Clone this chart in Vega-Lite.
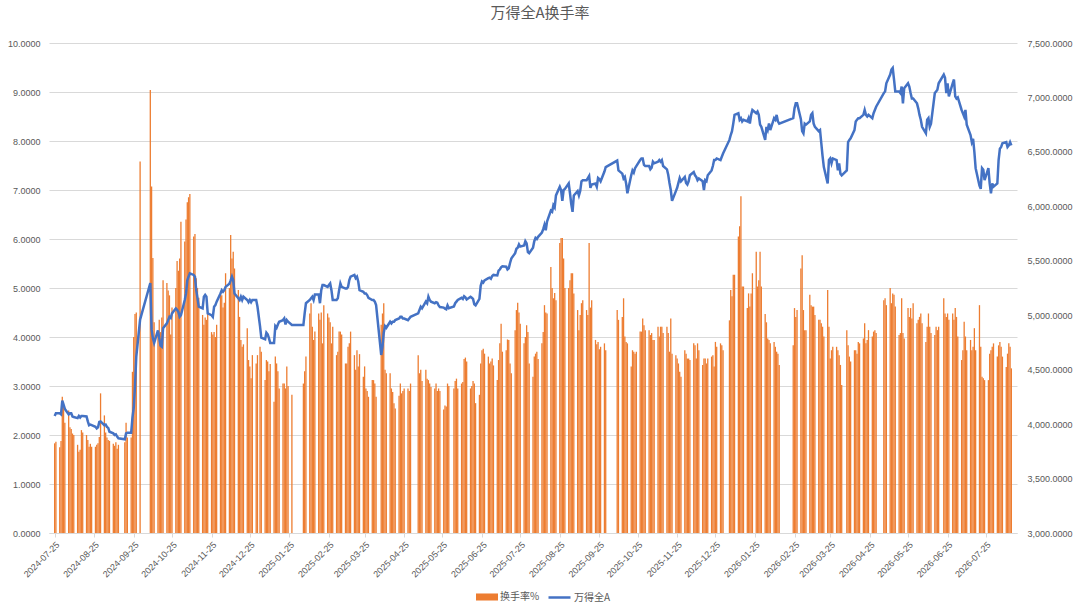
{
  "$schema": "https://vega.github.io/schema/vega-lite/v6.json",
  "width": 968,
  "height": 490,
  "autosize": {"type": "none"},
  "padding": {"left": 49, "top": 43, "right": 63, "bottom": 81},
  "background": "white",
  "title": {
    "text": "万得全A换手率",
    "font": "Noto Sans CJK SC",
    "fontSize": 15,
    "fontWeight": "normal",
    "color": "#595959",
    "anchor": "middle",
    "offset": 18,
    "dx": 7
  },
  "config": {"view": {"stroke": null}, "font": "Liberation Sans"},
  "data": {
    "values": [
      {"date":"2024-07-25","turnover":1.83,"index":4075},
      {"date":"2024-07-26","turnover":1.86,"index":4100},
      {"date":"2024-07-29","turnover":1.75,"index":4100},
      {"date":"2024-07-30","turnover":1.88,"index":4090},
      {"date":"2024-07-31","turnover":2.78,"index":4215},
      {"date":"2024-08-01","turnover":2.60,"index":4180},
      {"date":"2024-08-02","turnover":2.25,"index":4140},
      {"date":"2024-08-05","turnover":2.50,"index":4090},
      {"date":"2024-08-06","turnover":2.16,"index":4100},
      {"date":"2024-08-07","turnover":2.12,"index":4100},
      {"date":"2024-08-08","turnover":2.03,"index":4070},
      {"date":"2024-08-09","turnover":2.00,"index":4065},
      {"date":"2024-08-12","turnover":1.80,"index":4055},
      {"date":"2024-08-13","turnover":1.66,"index":4075},
      {"date":"2024-08-14","turnover":1.70,"index":4060},
      {"date":"2024-08-15","turnover":2.10,"index":4075},
      {"date":"2024-08-16","turnover":2.05,"index":4075},
      {"date":"2024-08-19","turnover":2.00,"index":4070},
      {"date":"2024-08-20","turnover":1.90,"index":4025},
      {"date":"2024-08-21","turnover":1.76,"index":3990},
      {"date":"2024-08-22","turnover":1.82,"index":3995},
      {"date":"2024-08-23","turnover":1.76,"index":3990},
      {"date":"2024-08-26","turnover":1.76,"index":3975},
      {"date":"2024-08-27","turnover":1.80,"index":3960},
      {"date":"2024-08-28","turnover":1.83,"index":3970},
      {"date":"2024-08-29","turnover":1.96,"index":4020},
      {"date":"2024-08-30","turnover":2.85,"index":4025},
      {"date":"2024-09-02","turnover":2.40,"index":3990},
      {"date":"2024-09-03","turnover":2.05,"index":3995},
      {"date":"2024-09-04","turnover":1.95,"index":3975},
      {"date":"2024-09-05","turnover":1.90,"index":3965},
      {"date":"2024-09-06","turnover":1.88,"index":3930},
      {"date":"2024-09-09","turnover":1.82,"index":3915},
      {"date":"2024-09-10","turnover":1.78,"index":3900},
      {"date":"2024-09-11","turnover":1.85,"index":3905},
      {"date":"2024-09-12","turnover":1.72,"index":3885},
      {"date":"2024-09-13","turnover":1.80,"index":3870},
      {"date":"2024-09-18","turnover":1.85,"index":3860},
      {"date":"2024-09-19","turnover":2.25,"index":3915},
      {"date":"2024-09-20","turnover":1.95,"index":3920},
      {"date":"2024-09-23","turnover":1.95,"index":3920},
      {"date":"2024-09-24","turnover":3.29,"index":4060},
      {"date":"2024-09-25","turnover":4.00,"index":4150},
      {"date":"2024-09-26","turnover":4.47,"index":4350},
      {"date":"2024-09-27","turnover":4.50,"index":4620},
      {"date":"2024-09-30","turnover":7.58,"index":4960},
      {"date":"2024-10-08","turnover":9.04,"index":5296},
      {"date":"2024-10-09","turnover":7.07,"index":4870},
      {"date":"2024-10-10","turnover":5.61,"index":4790},
      {"date":"2024-10-11","turnover":4.30,"index":4745},
      {"date":"2024-10-14","turnover":4.05,"index":4860},
      {"date":"2024-10-15","turnover":4.35,"index":4790},
      {"date":"2024-10-16","turnover":4.10,"index":4720},
      {"date":"2024-10-17","turnover":4.40,"index":4710},
      {"date":"2024-10-18","turnover":5.16,"index":4880},
      {"date":"2024-10-21","turnover":5.10,"index":4925},
      {"date":"2024-10-22","turnover":4.95,"index":4955},
      {"date":"2024-10-23","turnover":4.85,"index":4985},
      {"date":"2024-10-24","turnover":4.05,"index":4975},
      {"date":"2024-10-25","turnover":4.60,"index":5017},
      {"date":"2024-10-28","turnover":5.00,"index":5063},
      {"date":"2024-10-29","turnover":5.55,"index":5050},
      {"date":"2024-10-30","turnover":5.35,"index":5030},
      {"date":"2024-10-31","turnover":5.60,"index":4985},
      {"date":"2024-11-01","turnover":6.35,"index":5000},
      {"date":"2024-11-04","turnover":5.95,"index":5140},
      {"date":"2024-11-05","turnover":6.40,"index":5200},
      {"date":"2024-11-06","turnover":6.75,"index":5320},
      {"date":"2024-11-07","turnover":6.85,"index":5354},
      {"date":"2024-11-08","turnover":6.92,"index":5385},
      {"date":"2024-11-11","turnover":6.05,"index":5370},
      {"date":"2024-11-12","turnover":6.10,"index":5354},
      {"date":"2024-11-13","turnover":5.20,"index":5230},
      {"date":"2024-11-14","turnover":5.00,"index":5155},
      {"date":"2024-11-15","turnover":4.80,"index":5078},
      {"date":"2024-11-18","turnover":4.45,"index":5063},
      {"date":"2024-11-19","turnover":4.25,"index":5170},
      {"date":"2024-11-20","turnover":4.40,"index":5186},
      {"date":"2024-11-21","turnover":4.35,"index":5170},
      {"date":"2024-11-22","turnover":4.50,"index":5017},
      {"date":"2024-11-25","turnover":4.10,"index":5000},
      {"date":"2024-11-26","turnover":4.05,"index":4985},
      {"date":"2024-11-27","turnover":4.10,"index":5078},
      {"date":"2024-11-28","turnover":4.00,"index":5093},
      {"date":"2024-11-29","turnover":4.25,"index":5125},
      {"date":"2024-12-02","turnover":4.90,"index":5200},
      {"date":"2024-12-03","turnover":4.85,"index":5230},
      {"date":"2024-12-04","turnover":4.60,"index":5215},
      {"date":"2024-12-05","turnover":4.70,"index":5230},
      {"date":"2024-12-06","turnover":5.30,"index":5260},
      {"date":"2024-12-09","turnover":5.00,"index":5290},
      {"date":"2024-12-10","turnover":6.08,"index":5320},
      {"date":"2024-12-11","turnover":5.60,"index":5354},
      {"date":"2024-12-12","turnover":5.74,"index":5320},
      {"date":"2024-12-13","turnover":5.40,"index":5200},
      {"date":"2024-12-16","turnover":4.96,"index":5155},
      {"date":"2024-12-17","turnover":4.41,"index":5140},
      {"date":"2024-12-18","turnover":3.94,"index":5170},
      {"date":"2024-12-19","turnover":3.80,"index":5140},
      {"date":"2024-12-20","turnover":3.85,"index":5170},
      {"date":"2024-12-23","turnover":4.18,"index":5140},
      {"date":"2024-12-24","turnover":3.53,"index":5120},
      {"date":"2024-12-25","turnover":3.40,"index":5140},
      {"date":"2024-12-26","turnover":3.16,"index":5120},
      {"date":"2024-12-27","turnover":3.63,"index":5140},
      {"date":"2024-12-30","turnover":3.46,"index":5140},
      {"date":"2024-12-31","turnover":3.63,"index":5080},
      {"date":"2025-01-02","turnover":3.80,"index":4900},
      {"date":"2025-01-03","turnover":3.70,"index":4795},
      {"date":"2025-01-06","turnover":3.12,"index":4780},
      {"date":"2025-01-07","turnover":3.53,"index":4840},
      {"date":"2025-01-08","turnover":3.50,"index":4825},
      {"date":"2025-01-09","turnover":3.30,"index":4790},
      {"date":"2025-01-10","turnover":3.45,"index":4745},
      {"date":"2025-01-13","turnover":2.68,"index":4745},
      {"date":"2025-01-14","turnover":3.60,"index":4900},
      {"date":"2025-01-15","turnover":3.46,"index":4885},
      {"date":"2025-01-16","turnover":3.30,"index":4915},
      {"date":"2025-01-17","turnover":2.95,"index":4940},
      {"date":"2025-01-20","turnover":3.05,"index":4955},
      {"date":"2025-01-21","turnover":3.05,"index":4970},
      {"date":"2025-01-22","turnover":2.95,"index":4915},
      {"date":"2025-01-23","turnover":3.40,"index":4955},
      {"date":"2025-01-24","turnover":3.00,"index":4940},
      {"date":"2025-01-27","turnover":2.82,"index":4910},
      {"date":"2025-02-05","turnover":3.05,"index":4910},
      {"date":"2025-02-06","turnover":3.30,"index":5017},
      {"date":"2025-02-07","turnover":3.60,"index":5110},
      {"date":"2025-02-10","turnover":4.48,"index":5140},
      {"date":"2025-02-11","turnover":4.69,"index":5155},
      {"date":"2025-02-12","turnover":4.21,"index":5170},
      {"date":"2025-02-13","turnover":3.94,"index":5140},
      {"date":"2025-02-14","turnover":4.11,"index":5190},
      {"date":"2025-02-17","turnover":4.48,"index":5190},
      {"date":"2025-02-18","turnover":4.35,"index":5110},
      {"date":"2025-02-19","turnover":4.50,"index":5230},
      {"date":"2025-02-20","turnover":3.87,"index":5277},
      {"date":"2025-02-21","turnover":4.65,"index":5277},
      {"date":"2025-02-24","turnover":4.48,"index":5260},
      {"date":"2025-02-25","turnover":4.40,"index":5277},
      {"date":"2025-02-26","turnover":4.30,"index":5292},
      {"date":"2025-02-27","turnover":3.87,"index":5230},
      {"date":"2025-02-28","turnover":4.21,"index":5140},
      {"date":"2025-03-03","turnover":3.63,"index":5140},
      {"date":"2025-03-04","turnover":3.70,"index":5155},
      {"date":"2025-03-05","turnover":4.11,"index":5230},
      {"date":"2025-03-06","turnover":4.11,"index":5292},
      {"date":"2025-03-07","turnover":4.05,"index":5260},
      {"date":"2025-03-10","turnover":3.46,"index":5245},
      {"date":"2025-03-11","turnover":3.46,"index":5245},
      {"date":"2025-03-12","turnover":3.80,"index":5260},
      {"date":"2025-03-13","turnover":3.87,"index":5323},
      {"date":"2025-03-14","turnover":4.11,"index":5354},
      {"date":"2025-03-17","turnover":3.63,"index":5370},
      {"date":"2025-03-18","turnover":3.33,"index":5340},
      {"date":"2025-03-19","turnover":3.73,"index":5354},
      {"date":"2025-03-20","turnover":3.40,"index":5310},
      {"date":"2025-03-21","turnover":3.65,"index":5230},
      {"date":"2025-03-24","turnover":3.19,"index":5215},
      {"date":"2025-03-25","turnover":3.40,"index":5200},
      {"date":"2025-03-26","turnover":2.95,"index":5200},
      {"date":"2025-03-27","turnover":2.90,"index":5185},
      {"date":"2025-03-28","turnover":2.78,"index":5160},
      {"date":"2025-03-31","turnover":3.12,"index":5140},
      {"date":"2025-04-01","turnover":3.12,"index":5140},
      {"date":"2025-04-02","turnover":3.05,"index":5125},
      {"date":"2025-04-03","turnover":2.78,"index":5093},
      {"date":"2025-04-07","turnover":4.25,"index":4635},
      {"date":"2025-04-08","turnover":4.48,"index":4710},
      {"date":"2025-04-09","turnover":4.69,"index":4840},
      {"date":"2025-04-10","turnover":3.33,"index":4900},
      {"date":"2025-04-11","turnover":3.26,"index":4885},
      {"date":"2025-04-14","turnover":3.26,"index":4940},
      {"date":"2025-04-15","turnover":2.95,"index":4925},
      {"date":"2025-04-16","turnover":2.88,"index":4940},
      {"date":"2025-04-17","turnover":2.65,"index":4940},
      {"date":"2025-04-18","turnover":2.54,"index":4955},
      {"date":"2025-04-21","turnover":2.80,"index":4970},
      {"date":"2025-04-22","turnover":3.05,"index":4985},
      {"date":"2025-04-23","turnover":2.85,"index":4985},
      {"date":"2025-04-24","turnover":2.90,"index":4970},
      {"date":"2025-04-25","turnover":2.95,"index":4970},
      {"date":"2025-04-28","turnover":2.95,"index":4955},
      {"date":"2025-04-29","turnover":2.90,"index":4970},
      {"date":"2025-04-30","turnover":3.05,"index":4985},
      {"date":"2025-05-06","turnover":3.63,"index":5017},
      {"date":"2025-05-07","turnover":3.26,"index":5048},
      {"date":"2025-05-08","turnover":3.33,"index":5078},
      {"date":"2025-05-09","turnover":3.10,"index":5063},
      {"date":"2025-05-12","turnover":3.33,"index":5125},
      {"date":"2025-05-13","turnover":3.15,"index":5110},
      {"date":"2025-05-14","turnover":3.12,"index":5170},
      {"date":"2025-05-15","turnover":3.05,"index":5140},
      {"date":"2025-05-16","turnover":2.98,"index":5125},
      {"date":"2025-05-19","turnover":2.95,"index":5110},
      {"date":"2025-05-20","turnover":3.05,"index":5120},
      {"date":"2025-05-21","turnover":2.90,"index":5115},
      {"date":"2025-05-22","turnover":2.95,"index":5090},
      {"date":"2025-05-23","turnover":2.90,"index":5075},
      {"date":"2025-05-26","turnover":2.52,"index":5070},
      {"date":"2025-05-27","turnover":2.60,"index":5060},
      {"date":"2025-05-28","turnover":2.58,"index":5055},
      {"date":"2025-05-29","turnover":3.05,"index":5090},
      {"date":"2025-05-30","turnover":3.00,"index":5065},
      {"date":"2025-06-03","turnover":2.95,"index":5080},
      {"date":"2025-06-04","turnover":3.10,"index":5110},
      {"date":"2025-06-05","turnover":3.15,"index":5125},
      {"date":"2025-06-06","turnover":2.95,"index":5140},
      {"date":"2025-06-09","turnover":3.05,"index":5160},
      {"date":"2025-06-10","turnover":3.08,"index":5150},
      {"date":"2025-06-11","turnover":3.55,"index":5175},
      {"date":"2025-06-12","turnover":3.58,"index":5165},
      {"date":"2025-06-13","turnover":3.50,"index":5145},
      {"date":"2025-06-16","turnover":2.95,"index":5170},
      {"date":"2025-06-17","turnover":3.00,"index":5160},
      {"date":"2025-06-18","turnover":3.10,"index":5150},
      {"date":"2025-06-19","turnover":3.05,"index":5100},
      {"date":"2025-06-20","turnover":2.65,"index":5090},
      {"date":"2025-06-23","turnover":2.82,"index":5150},
      {"date":"2025-06-24","turnover":3.46,"index":5270},
      {"date":"2025-06-25","turnover":3.73,"index":5310},
      {"date":"2025-06-26","turnover":3.76,"index":5300},
      {"date":"2025-06-27","turnover":3.66,"index":5320},
      {"date":"2025-06-30","turnover":3.60,"index":5340},
      {"date":"2025-07-01","turnover":3.46,"index":5345},
      {"date":"2025-07-02","turnover":3.50,"index":5335},
      {"date":"2025-07-03","turnover":3.56,"index":5360},
      {"date":"2025-07-04","turnover":3.42,"index":5370},
      {"date":"2025-07-07","turnover":3.12,"index":5365},
      {"date":"2025-07-08","turnover":3.53,"index":5410},
      {"date":"2025-07-09","turnover":3.87,"index":5420},
      {"date":"2025-07-10","turnover":4.27,"index":5440},
      {"date":"2025-07-11","turnover":3.70,"index":5450},
      {"date":"2025-07-14","turnover":3.73,"index":5445},
      {"date":"2025-07-15","turnover":3.95,"index":5420},
      {"date":"2025-07-16","turnover":3.94,"index":5430},
      {"date":"2025-07-17","turnover":3.46,"index":5480},
      {"date":"2025-07-18","turnover":3.26,"index":5520},
      {"date":"2025-07-21","turnover":4.14,"index":5570},
      {"date":"2025-07-22","turnover":4.55,"index":5610},
      {"date":"2025-07-23","turnover":4.70,"index":5620},
      {"date":"2025-07-24","turnover":4.50,"index":5650},
      {"date":"2025-07-25","turnover":4.27,"index":5630},
      {"date":"2025-07-28","turnover":3.87,"index":5640},
      {"date":"2025-07-29","turnover":4.00,"index":5680},
      {"date":"2025-07-30","turnover":4.24,"index":5660},
      {"date":"2025-07-31","turnover":4.10,"index":5580},
      {"date":"2025-08-01","turnover":3.46,"index":5570},
      {"date":"2025-08-04","turnover":3.19,"index":5620},
      {"date":"2025-08-05","turnover":3.60,"index":5680},
      {"date":"2025-08-06","turnover":3.66,"index":5710},
      {"date":"2025-08-07","turnover":3.70,"index":5700},
      {"date":"2025-08-08","turnover":3.55,"index":5720},
      {"date":"2025-08-11","turnover":3.87,"index":5760},
      {"date":"2025-08-12","turnover":4.10,"index":5790},
      {"date":"2025-08-13","turnover":4.65,"index":5830},
      {"date":"2025-08-14","turnover":4.50,"index":5780},
      {"date":"2025-08-15","turnover":4.48,"index":5860},
      {"date":"2025-08-18","turnover":5.43,"index":5960},
      {"date":"2025-08-19","turnover":5.00,"index":5950},
      {"date":"2025-08-20","turnover":4.79,"index":6010},
      {"date":"2025-08-21","turnover":4.90,"index":5990},
      {"date":"2025-08-22","turnover":4.75,"index":6100},
      {"date":"2025-08-25","turnover":5.92,"index":6180},
      {"date":"2025-08-26","turnover":6.02,"index":6150},
      {"date":"2025-08-27","turnover":6.02,"index":6050},
      {"date":"2025-08-28","turnover":5.60,"index":6150},
      {"date":"2025-08-29","turnover":5.00,"index":6160},
      {"date":"2025-09-01","turnover":5.00,"index":6210},
      {"date":"2025-09-02","turnover":5.16,"index":6120},
      {"date":"2025-09-03","turnover":5.30,"index":6020},
      {"date":"2025-09-04","turnover":5.30,"index":5950},
      {"date":"2025-09-05","turnover":4.89,"index":6100},
      {"date":"2025-09-08","turnover":4.55,"index":6140},
      {"date":"2025-09-09","turnover":4.14,"index":6100},
      {"date":"2025-09-10","turnover":4.45,"index":6140},
      {"date":"2025-09-11","turnover":4.69,"index":6230},
      {"date":"2025-09-12","turnover":4.75,"index":6240},
      {"date":"2025-09-15","turnover":4.55,"index":6240},
      {"date":"2025-09-16","turnover":4.45,"index":6260},
      {"date":"2025-09-17","turnover":5.92,"index":6280},
      {"date":"2025-09-18","turnover":4.60,"index":6170},
      {"date":"2025-09-19","turnover":4.75,"index":6200},
      {"date":"2025-09-22","turnover":3.94,"index":6210},
      {"date":"2025-09-23","turnover":3.85,"index":6180},
      {"date":"2025-09-24","turnover":3.90,"index":6260},
      {"date":"2025-09-25","turnover":3.75,"index":6250},
      {"date":"2025-09-26","turnover":3.80,"index":6230},
      {"date":"2025-09-29","turnover":3.87,"index":6320},
      {"date":"2025-09-30","turnover":3.73,"index":6360},
      {"date":"2025-10-09","turnover":4.55,"index":6420},
      {"date":"2025-10-10","turnover":4.35,"index":6330},
      {"date":"2025-10-13","turnover":4.41,"index":6300},
      {"date":"2025-10-14","turnover":4.79,"index":6255},
      {"date":"2025-10-15","turnover":4.01,"index":6270},
      {"date":"2025-10-16","turnover":3.90,"index":6210},
      {"date":"2025-10-17","turnover":3.87,"index":6120},
      {"date":"2025-10-20","turnover":3.40,"index":6285},
      {"date":"2025-10-21","turnover":3.73,"index":6330},
      {"date":"2025-10-22","turnover":3.70,"index":6310},
      {"date":"2025-10-23","turnover":3.66,"index":6350},
      {"date":"2025-10-24","turnover":3.70,"index":6370},
      {"date":"2025-10-27","turnover":4.11,"index":6425},
      {"date":"2025-10-28","turnover":4.11,"index":6440},
      {"date":"2025-10-29","turnover":4.38,"index":6440},
      {"date":"2025-10-30","turnover":4.24,"index":6380},
      {"date":"2025-10-31","turnover":4.14,"index":6370},
      {"date":"2025-11-03","turnover":4.14,"index":6370},
      {"date":"2025-11-04","turnover":4.04,"index":6340},
      {"date":"2025-11-05","turnover":4.08,"index":6355},
      {"date":"2025-11-06","turnover":3.94,"index":6410},
      {"date":"2025-11-07","turnover":3.94,"index":6395},
      {"date":"2025-11-10","turnover":4.21,"index":6410},
      {"date":"2025-11-11","turnover":4.01,"index":6425},
      {"date":"2025-11-12","turnover":4.21,"index":6410},
      {"date":"2025-11-13","turnover":4.21,"index":6425},
      {"date":"2025-11-14","turnover":4.08,"index":6370},
      {"date":"2025-11-17","turnover":4.21,"index":6340},
      {"date":"2025-11-18","turnover":4.08,"index":6290},
      {"date":"2025-11-19","turnover":3.70,"index":6215},
      {"date":"2025-11-20","turnover":4.38,"index":6150},
      {"date":"2025-11-21","turnover":3.66,"index":6050},
      {"date":"2025-11-24","turnover":3.63,"index":6140},
      {"date":"2025-11-25","turnover":3.56,"index":6170},
      {"date":"2025-11-26","turnover":3.46,"index":6215},
      {"date":"2025-11-27","turnover":3.29,"index":6260},
      {"date":"2025-11-28","turnover":3.19,"index":6230},
      {"date":"2025-12-01","turnover":3.73,"index":6270},
      {"date":"2025-12-02","turnover":3.66,"index":6215},
      {"date":"2025-12-03","turnover":3.56,"index":6200},
      {"date":"2025-12-04","turnover":3.56,"index":6230},
      {"date":"2025-12-05","turnover":3.53,"index":6285},
      {"date":"2025-12-08","turnover":3.87,"index":6315},
      {"date":"2025-12-09","turnover":3.83,"index":6285},
      {"date":"2025-12-10","turnover":3.56,"index":6270},
      {"date":"2025-12-11","turnover":3.87,"index":6240},
      {"date":"2025-12-12","turnover":3.73,"index":6255},
      {"date":"2025-12-15","turnover":3.43,"index":6230},
      {"date":"2025-12-16","turnover":3.56,"index":6150},
      {"date":"2025-12-17","turnover":3.56,"index":6240},
      {"date":"2025-12-18","turnover":3.46,"index":6230},
      {"date":"2025-12-19","turnover":3.56,"index":6285},
      {"date":"2025-12-22","turnover":3.60,"index":6330},
      {"date":"2025-12-23","turnover":3.63,"index":6370},
      {"date":"2025-12-24","turnover":3.40,"index":6425},
      {"date":"2025-12-25","turnover":3.90,"index":6425},
      {"date":"2025-12-26","turnover":3.80,"index":6440},
      {"date":"2025-12-29","turnover":3.87,"index":6425},
      {"date":"2025-12-30","turnover":3.83,"index":6455},
      {"date":"2025-12-31","turnover":3.73,"index":6485},
      {"date":"2026-01-05","turnover":4.34,"index":6610},
      {"date":"2026-01-06","turnover":4.96,"index":6655},
      {"date":"2026-01-07","turnover":4.83,"index":6690},
      {"date":"2026-01-08","turnover":5.27,"index":6760},
      {"date":"2026-01-09","turnover":5.27,"index":6840},
      {"date":"2026-01-12","turnover":6.05,"index":6855},
      {"date":"2026-01-13","turnover":6.26,"index":6795},
      {"date":"2026-01-14","turnover":6.87,"index":6810},
      {"date":"2026-01-15","turnover":5.03,"index":6780},
      {"date":"2026-01-16","turnover":5.03,"index":6795},
      {"date":"2026-01-19","turnover":4.59,"index":6780},
      {"date":"2026-01-20","turnover":4.89,"index":6810},
      {"date":"2026-01-21","turnover":4.62,"index":6760},
      {"date":"2026-01-22","turnover":4.89,"index":6840},
      {"date":"2026-01-23","turnover":5.30,"index":6885},
      {"date":"2026-01-26","turnover":5.74,"index":6855},
      {"date":"2026-01-27","turnover":5.03,"index":6870},
      {"date":"2026-01-28","turnover":5.16,"index":6840},
      {"date":"2026-01-29","turnover":5.74,"index":6750},
      {"date":"2026-01-30","turnover":5.03,"index":6730},
      {"date":"2026-02-02","turnover":4.47,"index":6610},
      {"date":"2026-02-03","turnover":4.30,"index":6730},
      {"date":"2026-02-04","turnover":3.97,"index":6700},
      {"date":"2026-02-05","turnover":3.94,"index":6760},
      {"date":"2026-02-06","turnover":3.87,"index":6700},
      {"date":"2026-02-09","turnover":3.90,"index":6810},
      {"date":"2026-02-10","turnover":3.80,"index":6795},
      {"date":"2026-02-11","turnover":3.70,"index":6840},
      {"date":"2026-02-12","turnover":3.66,"index":6780},
      {"date":"2026-02-13","turnover":3.43,"index":6760},
      {"date":"2026-02-24","turnover":3.83,"index":6810},
      {"date":"2026-02-25","turnover":4.59,"index":6900},
      {"date":"2026-02-26","turnover":4.41,"index":6946},
      {"date":"2026-02-27","turnover":4.55,"index":6946},
      {"date":"2026-03-02","turnover":5.40,"index":6800},
      {"date":"2026-03-03","turnover":5.67,"index":6690},
      {"date":"2026-03-04","turnover":4.55,"index":6670},
      {"date":"2026-03-05","turnover":4.14,"index":6760},
      {"date":"2026-03-06","turnover":4.14,"index":6750},
      {"date":"2026-03-09","turnover":4.86,"index":6780},
      {"date":"2026-03-10","turnover":4.65,"index":6840},
      {"date":"2026-03-11","turnover":4.62,"index":6855},
      {"date":"2026-03-12","turnover":4.62,"index":6760},
      {"date":"2026-03-13","turnover":4.45,"index":6730},
      {"date":"2026-03-16","turnover":4.35,"index":6690},
      {"date":"2026-03-17","turnover":4.35,"index":6700},
      {"date":"2026-03-18","turnover":4.28,"index":6580},
      {"date":"2026-03-19","turnover":4.21,"index":6460},
      {"date":"2026-03-20","turnover":4.01,"index":6360},
      {"date":"2026-03-23","turnover":4.96,"index":6210},
      {"date":"2026-03-24","turnover":4.21,"index":6425},
      {"date":"2026-03-25","turnover":3.56,"index":6440},
      {"date":"2026-03-26","turnover":3.73,"index":6395},
      {"date":"2026-03-27","turnover":3.80,"index":6440},
      {"date":"2026-03-30","turnover":3.80,"index":6425},
      {"date":"2026-03-31","turnover":3.73,"index":6330},
      {"date":"2026-04-01","turnover":3.63,"index":6395},
      {"date":"2026-04-02","turnover":3.43,"index":6300},
      {"date":"2026-04-03","turnover":3.02,"index":6285},
      {"date":"2026-04-07","turnover":4.14,"index":6330},
      {"date":"2026-04-08","turnover":3.83,"index":6590},
      {"date":"2026-04-09","turnover":3.60,"index":6610},
      {"date":"2026-04-10","turnover":3.50,"index":6625},
      {"date":"2026-04-13","turnover":3.73,"index":6700},
      {"date":"2026-04-14","turnover":3.73,"index":6780},
      {"date":"2026-04-15","turnover":3.66,"index":6795},
      {"date":"2026-04-16","turnover":3.90,"index":6810},
      {"date":"2026-04-17","turnover":3.87,"index":6810},
      {"date":"2026-04-20","turnover":3.97,"index":6840},
      {"date":"2026-04-21","turnover":4.28,"index":6885},
      {"date":"2026-04-22","turnover":3.87,"index":6840},
      {"date":"2026-04-23","turnover":3.94,"index":6825},
      {"date":"2026-04-24","turnover":4.14,"index":6840},
      {"date":"2026-04-27","turnover":4.01,"index":6810},
      {"date":"2026-04-28","turnover":4.11,"index":6855},
      {"date":"2026-04-29","turnover":4.14,"index":6885},
      {"date":"2026-04-30","turnover":4.08,"index":6915},
      {"date":"2026-05-06","turnover":4.75,"index":7040},
      {"date":"2026-05-07","turnover":4.79,"index":7055},
      {"date":"2026-05-08","turnover":4.65,"index":7130},
      {"date":"2026-05-11","turnover":5.00,"index":7210},
      {"date":"2026-05-12","turnover":4.69,"index":7255},
      {"date":"2026-05-13","turnover":4.89,"index":7270},
      {"date":"2026-05-14","turnover":4.86,"index":7165},
      {"date":"2026-05-15","turnover":4.62,"index":7055},
      {"date":"2026-05-18","turnover":4.04,"index":7055},
      {"date":"2026-05-19","turnover":4.08,"index":7040},
      {"date":"2026-05-20","turnover":4.79,"index":7100},
      {"date":"2026-05-21","turnover":4.08,"index":6946},
      {"date":"2026-05-22","turnover":3.97,"index":7085},
      {"date":"2026-05-25","turnover":4.59,"index":7130},
      {"date":"2026-05-26","turnover":4.41,"index":7100},
      {"date":"2026-05-27","turnover":4.59,"index":7040},
      {"date":"2026-05-28","turnover":4.38,"index":6990},
      {"date":"2026-05-29","turnover":4.69,"index":6990},
      {"date":"2026-06-01","turnover":4.28,"index":6946},
      {"date":"2026-06-02","turnover":4.35,"index":6900},
      {"date":"2026-06-03","turnover":4.41,"index":6840},
      {"date":"2026-06-04","turnover":4.48,"index":6795},
      {"date":"2026-06-05","turnover":4.28,"index":6730},
      {"date":"2026-06-08","turnover":3.90,"index":6670},
      {"date":"2026-06-09","turnover":4.21,"index":6795},
      {"date":"2026-06-10","turnover":4.48,"index":6810},
      {"date":"2026-06-11","turnover":4.21,"index":6730},
      {"date":"2026-06-12","turnover":4.08,"index":6760},
      {"date":"2026-06-15","turnover":4.04,"index":7040},
      {"date":"2026-06-16","turnover":4.21,"index":7055},
      {"date":"2026-06-17","turnover":4.14,"index":7070},
      {"date":"2026-06-18","turnover":4.21,"index":7130},
      {"date":"2026-06-22","turnover":4.79,"index":7210},
      {"date":"2026-06-23","turnover":4.48,"index":7180},
      {"date":"2026-06-24","turnover":4.41,"index":7040},
      {"date":"2026-06-25","turnover":4.48,"index":7130},
      {"date":"2026-06-26","turnover":4.35,"index":7010},
      {"date":"2026-06-29","turnover":4.48,"index":7130},
      {"date":"2026-06-30","turnover":4.35,"index":7165},
      {"date":"2026-07-01","turnover":4.59,"index":7010},
      {"date":"2026-07-02","turnover":4.41,"index":6990},
      {"date":"2026-07-03","turnover":4.01,"index":7000},
      {"date":"2026-07-06","turnover":3.53,"index":6885},
      {"date":"2026-07-07","turnover":3.73,"index":6855},
      {"date":"2026-07-08","turnover":4.31,"index":6825},
      {"date":"2026-07-09","turnover":4.01,"index":6885},
      {"date":"2026-07-10","turnover":3.73,"index":6750},
      {"date":"2026-07-13","turnover":3.94,"index":6655},
      {"date":"2026-07-14","turnover":3.73,"index":6590},
      {"date":"2026-07-15","turnover":3.80,"index":6620},
      {"date":"2026-07-16","turnover":4.18,"index":6500},
      {"date":"2026-07-17","turnover":3.73,"index":6350},
      {"date":"2026-07-20","turnover":4.65,"index":6190},
      {"date":"2026-07-21","turnover":3.80,"index":6160},
      {"date":"2026-07-22","turnover":3.19,"index":6350},
      {"date":"2026-07-23","turnover":3.16,"index":6335},
      {"date":"2026-07-24","turnover":3.12,"index":6240},
      {"date":"2026-07-27","turnover":3.12,"index":6350},
      {"date":"2026-07-28","turnover":3.66,"index":6210},
      {"date":"2026-07-29","turnover":3.73,"index":6120},
      {"date":"2026-07-30","turnover":3.80,"index":6210},
      {"date":"2026-07-31","turnover":3.87,"index":6180},
      {"date":"2026-08-03","turnover":3.60,"index":6210},
      {"date":"2026-08-04","turnover":3.83,"index":6425},
      {"date":"2026-08-05","turnover":3.90,"index":6530},
      {"date":"2026-08-06","turnover":3.80,"index":6545},
      {"date":"2026-08-07","turnover":3.60,"index":6580},
      {"date":"2026-08-10","turnover":3.39,"index":6590},
      {"date":"2026-08-11","turnover":3.66,"index":6545},
      {"date":"2026-08-12","turnover":3.87,"index":6560},
      {"date":"2026-08-13","turnover":3.80,"index":6590},
      {"date":"2026-08-14","turnover":3.36,"index":6560}
    ]
  },
  "encoding": {
    "x": {
      "field": "date",
      "type": "temporal",
      "scale": {
        "type": "utc",
        "domain": [
          {"year": 2024, "month": 7, "date": 24, "hours": 12, "utc": true},
          {"year": 2026, "month": 8, "date": 14, "hours": 12, "utc": true}
        ]
      },
      "axis": {
        "title": null,
        "format": "%Y-%m-%d",
        "values": [
          {"year": 2024, "month": 7, "date": 25, "utc": true},
          {"year": 2024, "month": 8, "date": 25, "utc": true},
          {"year": 2024, "month": 9, "date": 25, "utc": true},
          {"year": 2024, "month": 10, "date": 25, "utc": true},
          {"year": 2024, "month": 11, "date": 25, "utc": true},
          {"year": 2024, "month": 12, "date": 25, "utc": true},
          {"year": 2025, "month": 1, "date": 25, "utc": true},
          {"year": 2025, "month": 2, "date": 25, "utc": true},
          {"year": 2025, "month": 3, "date": 25, "utc": true},
          {"year": 2025, "month": 4, "date": 25, "utc": true},
          {"year": 2025, "month": 5, "date": 25, "utc": true},
          {"year": 2025, "month": 6, "date": 25, "utc": true},
          {"year": 2025, "month": 7, "date": 25, "utc": true},
          {"year": 2025, "month": 8, "date": 25, "utc": true},
          {"year": 2025, "month": 9, "date": 25, "utc": true},
          {"year": 2025, "month": 10, "date": 25, "utc": true},
          {"year": 2025, "month": 11, "date": 25, "utc": true},
          {"year": 2025, "month": 12, "date": 25, "utc": true},
          {"year": 2026, "month": 1, "date": 25, "utc": true},
          {"year": 2026, "month": 2, "date": 25, "utc": true},
          {"year": 2026, "month": 3, "date": 25, "utc": true},
          {"year": 2026, "month": 4, "date": 25, "utc": true},
          {"year": 2026, "month": 5, "date": 25, "utc": true},
          {"year": 2026, "month": 6, "date": 25, "utc": true},
          {"year": 2026, "month": 7, "date": 25, "utc": true}
        ],
        "labelAngle": -45,
        "labelFont": "Liberation Sans",
        "labelFontSize": 9,
        "labelColor": "#595959",
        "labelPadding": 3,
        "labelOverlap": false,
        "labelFlush": false,
        "grid": false,
        "domainColor": "#D9D9D9",
        "tickColor": "#D9D9D9",
        "tickSize": 4
      }
    }
  },
  "layer": [
    {
      "mark": {"type": "bar", "width": 1.3},
      "encoding": {
        "y": {
          "field": "turnover",
          "type": "quantitative",
          "scale": {"domain": [0, 10], "nice": false},
          "axis": {
            "title": null,
            "values": [0, 1, 2, 3, 4, 5, 6, 7, 8, 9, 10],
            "format": ".4f",
            "labelFont": "Liberation Sans",
            "labelFontSize": 9,
            "labelColor": "#595959",
            "labelPadding": 9,
            "domain": false,
            "ticks": false,
            "grid": true,
            "gridColor": "#D9D9D9",
            "gridWidth": 1
          }
        },
        "fill": {
          "datum": "换手率%",
          "scale": {"range": ["#ED7D31"]},
          "legend": {
            "orient": "none",
            "legendX": 427,
            "legendY": 543,
            "title": null,
            "padding": 0,
            "symbolType": "M-1,-0.32H1V0.32H-1Z",
            "symbolSize": 484,
            "symbolStrokeWidth": 0,
            "labelFont": "Noto Sans CJK SC",
            "labelFontSize": 10,
            "labelColor": "#595959",
            "labelOffset": 2
          }
        }
      }
    },
    {
      "mark": {"type": "line", "strokeWidth": 2.5},
      "encoding": {
        "y": {
          "field": "index",
          "type": "quantitative",
          "scale": {"domain": [3000, 7500], "nice": false},
          "axis": {
            "title": null,
            "orient": "right",
            "values": [3000, 3500, 4000, 4500, 5000, 5500, 6000, 6500, 7000, 7500],
            "format": ",.4f",
            "labelFont": "Liberation Sans",
            "labelFontSize": 9,
            "labelColor": "#595959",
            "labelPadding": 10,
            "domain": false,
            "ticks": false,
            "grid": false
          }
        },
        "stroke": {
          "datum": "万得全A",
          "scale": {"range": ["#4472C4"]},
          "legend": {
            "orient": "none",
            "legendX": 498,
            "legendY": 542,
            "title": null,
            "padding": 0,
            "symbolType": "stroke",
            "symbolSize": 484,
            "symbolStrokeWidth": 2.5,
            "labelFont": "Noto Sans CJK SC",
            "labelFontSize": 10,
            "labelColor": "#595959",
            "labelOffset": 2
          }
        }
      }
    }
  ],
  "resolve": {"scale": {"y": "independent"}}
}
